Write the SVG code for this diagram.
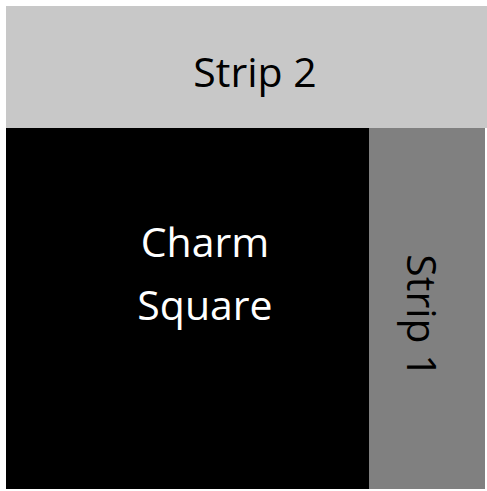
<svg xmlns="http://www.w3.org/2000/svg" width="487" height="491" viewBox="0 0 487 491">
<style>
text{font-family:"Open Sans","Liberation Sans",sans-serif;font-size:41px;text-anchor:middle}
.d{fill:#000}.w{fill:#fff}
</style>
<rect width="487" height="491" fill="#fff"/>
<g id="strip2">
<rect x="6" y="6" width="481" height="122" fill="#c8c8c8"/>
<text class="d" x="255" y="87">Strip 2</text>
</g>
<g id="charm-square">
<rect x="6" y="128" width="363" height="361" fill="#000"/>
<text class="w" x="205" y="257">Charm</text>
<text class="w" x="205" y="320">Square</text>
</g>
<g id="strip1">
<rect x="369" y="128" width="116" height="361" fill="#808080"/>
<text class="d" transform="translate(407 316) rotate(90)">Strip 1</text>
</g>
<g id="connectors"/>
</svg>
